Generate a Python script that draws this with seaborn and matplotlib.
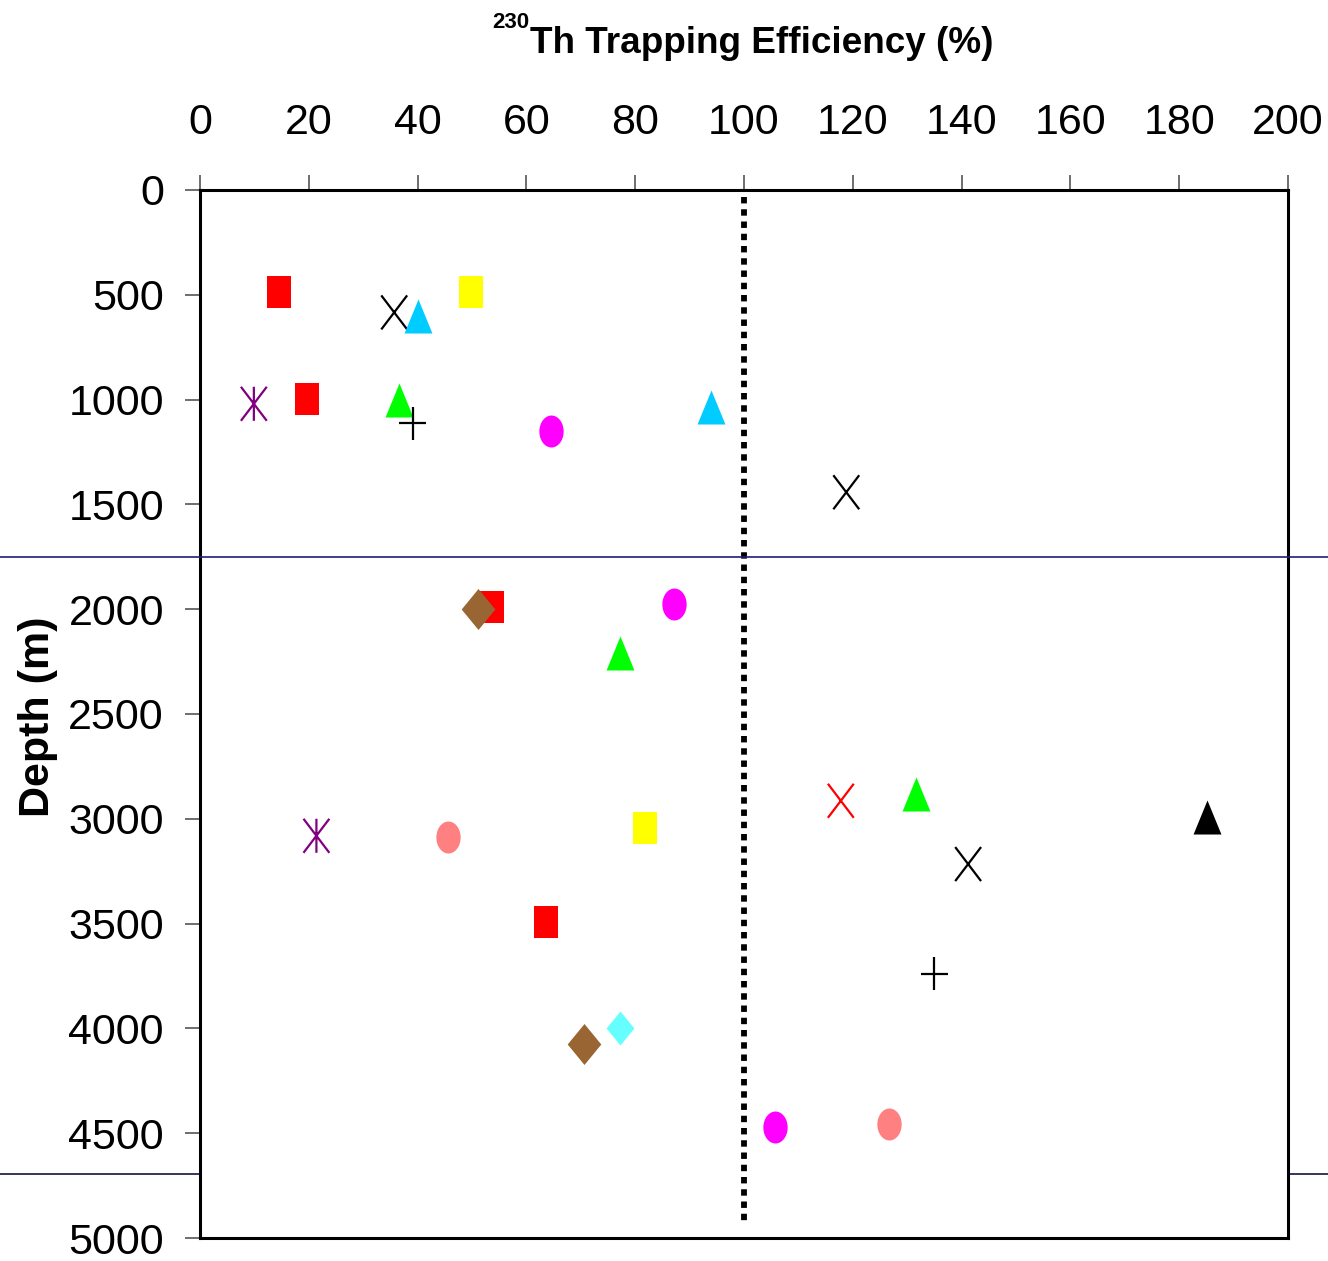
import numpy as np
import pandas as pd
import matplotlib
matplotlib.use("Agg")
import matplotlib.pyplot as plt
from matplotlib.path import Path
from matplotlib.lines import Line2D
from matplotlib import font_manager
import seaborn as sns

# ---------------- data ----------------
series = ["red_square", "yellow_square", "black_x", "red_x", "cyan_triangle",
          "green_triangle", "black_triangle", "purple_asterisk", "black_plus",
          "magenta_circle", "salmon_circle", "brown_diamond", "aqua_diamond"]

efficiency = {
    "red_square":      [14.5, 19.7, 53.6, 63.6],
    "yellow_square":   [49.8, 81.8],
    "black_x":         [35.7, 118.8, 141.2],
    "red_x":           [117.8],
    "cyan_triangle":   [40.0, 93.9],
    "green_triangle":  [36.6, 77.2, 131.7],
    "black_triangle":  [185.2],
    "purple_asterisk": [9.9, 21.4],
    "black_plus":      [39.1, 135.0],
    "magenta_circle":  [64.6, 87.1, 105.7],
    "salmon_circle":   [45.5, 126.6],
    "brown_diamond":   [51.1, 70.6],
    "aqua_diamond":    [77.2],
}
depth = {
    "red_square":      [486, 998, 1990, 3492],
    "yellow_square":   [486, 3042],
    "black_x":         [584, 1442, 3216],
    "red_x":           [2914],
    "cyan_triangle":   [599, 1036],
    "green_triangle":  [1004, 2209, 2884],
    "black_triangle":  [2991],
    "purple_asterisk": [1020, 3081],
    "black_plus":      [1112, 3740],
    "magenta_circle":  [1149, 1974, 4470],
    "salmon_circle":   [3086, 4456],
    "brown_diamond":   [1998, 4073],
    "aqua_diamond":    [3998],
}
colors = {
    "red_square": "#FF0000", "yellow_square": "#FFFF00", "black_x": "#000000",
    "red_x": "#FF0000", "cyan_triangle": "#00CCFF", "green_triangle": "#00FF00",
    "black_triangle": "#000000", "purple_asterisk": "#800080", "black_plus": "#000000",
    "magenta_circle": "#FF00FF", "salmon_circle": "#FF8080", "brown_diamond": "#996633",
    "aqua_diamond": "#66FFFF",
}
x_ticks = [0, 20, 40, 60, 80, 100, 120, 140, 160, 180, 200]
y_ticks = [0, 500, 1000, 1500, 2000, 2500, 3000, 3500, 4000, 4500, 5000]
ref_efficiency = 100
ref_depth = [35, 4928]

# ---------------- marker shapes ----------------
square = [(-0.39, -0.5), (0.39, -0.5), (0.39, 0.5), (-0.39, 0.5)]
t = np.linspace(0, 2 * np.pi, 60)
ellipse = list(zip(0.38 * np.cos(t), 0.5 * np.sin(t)))
triangle = [(-0.41, -0.5), (0.41, -0.5), (0.0, 0.5)]
diamond = [(0.0, 0.5), (0.41, 0.0), (0.0, -0.5), (-0.41, 0.0)]
M, L = Path.MOVETO, Path.LINETO
xmark = Path([(-0.38, -0.5), (0.38, 0.5), (-0.38, 0.5), (0.38, -0.5)], [M, L, M, L])
plus = Path([(0, -0.5), (0, 0.5), (-0.4, 0), (0.4, 0)], [M, L, M, L])
aster = Path([(0, -0.5), (0, 0.5), (-0.38, -0.5), (0.38, 0.5), (-0.38, 0.5), (0.38, -0.5)],
             [M, L, M, L, M, L])

style = {
    "red_square": (square, 530, True), "yellow_square": (square, 530, True),
    "black_x": (xmark, 600, False), "red_x": (xmark, 600, False),
    "cyan_triangle": (triangle, 600, True), "green_triangle": (triangle, 600, True),
    "black_triangle": (triangle, 600, True), "purple_asterisk": (aster, 600, False),
    "black_plus": (plus, 565, False), "magenta_circle": (ellipse, 530, True),
    "salmon_circle": (ellipse, 530, True), "brown_diamond": (diamond, 870, True),
    "aqua_diamond": (diamond, 600, True),
}

# ---------------- figure ----------------
sns.set_style("white")
installed = {f.name for f in font_manager.fontManager.ttflist}
has_narrow = "Liberation Sans Narrow" in installed
narrow = ["Liberation Sans Narrow", "Liberation Sans", "DejaVu Sans"] if has_narrow \
    else ["Liberation Sans", "DejaVu Sans"]
tick_size = 35 if has_narrow else 31
title_size = 30 if has_narrow else 26.6
sup_size = 18 if has_narrow else 16
plt.rcParams["font.family"] = narrow
plt.rcParams["text.color"] = "black"
plt.rcParams["xtick.color"] = "black"
plt.rcParams["ytick.color"] = "black"

fig = plt.figure(figsize=(13.28, 12.61), dpi=100)
ax = fig.add_axes([200 / 1328, 1 - 1238 / 1261, 1088 / 1328, 1048 / 1261])

for name in series:
    df = pd.DataFrame({"eff": efficiency[name], "depth": depth[name]})
    marker, size, filled = style[name]
    c = colors[name]
    if filled:
        sns.scatterplot(data=df, x="eff", y="depth", ax=ax, marker=marker, s=size,
                        color=c, linewidth=0, zorder=3, legend=False)
    else:
        sns.scatterplot(data=df, x="eff", y="depth", ax=ax, marker=marker, s=size,
                        color=c, facecolor="none", edgecolor=c, linewidth=1.6,
                        zorder=3, legend=False)

ax.plot([ref_efficiency, ref_efficiency], ref_depth, color="black", lw=4.2,
        dashes=(1.1, 1.0), solid_capstyle="butt", dash_capstyle="butt", zorder=2)

ax.set_xlim(0, 200)
ax.set_ylim(5000, 0)
ax.set_xticks(x_ticks)
ax.set_yticks(y_ticks)
ax.xaxis.set_ticks_position("top")
ax.xaxis.set_label_position("top")
ax.tick_params(axis="x", direction="out", length=11, width=1.2, color="#555555",
               labelcolor="black", labelsize=tick_size, pad=23, top=True, bottom=False)
ax.tick_params(axis="y", direction="out", length=11, width=1.2, color="#555555",
               labelcolor="black", labelsize=tick_size, pad=15, left=True)
ax.set_xlabel("")
ax.set_ylabel("")
for sp in ax.spines.values():
    sp.set_color("black")
    sp.set_linewidth(2.2)

# separator lines
fig.add_artist(Line2D([0, 1], [1 - 557 / 1261] * 2, color="#1E1E78", lw=1.2, zorder=10))
fig.add_artist(Line2D([0, 200 / 1328], [1 - 1174 / 1261] * 2, color="#000033", lw=1.1))
fig.add_artist(Line2D([1288 / 1328, 1], [1 - 1174 / 1261] * 2, color="#000033", lw=1.1))

# title with superscript
fig.text(530 / 1328, 1 - 53 / 1261, "Th Trapping Efficiency (%)", fontsize=title_size,
         fontweight="bold", ha="left", va="baseline", family=narrow, color="black")
fig.text(529 / 1328, 1 - 28 / 1261, "230", fontsize=sup_size, fontweight="bold",
         ha="right", va="baseline", family=narrow, color="black")

# y label
fig.text(38 / 1328, 1 - 717 / 1261, "Depth (m)", fontsize=31, fontweight="bold",
         rotation=90, ha="center", va="center", color="black",
         family=["Liberation Sans", "DejaVu Sans"])

fig.savefig("out.png", dpi=100)
